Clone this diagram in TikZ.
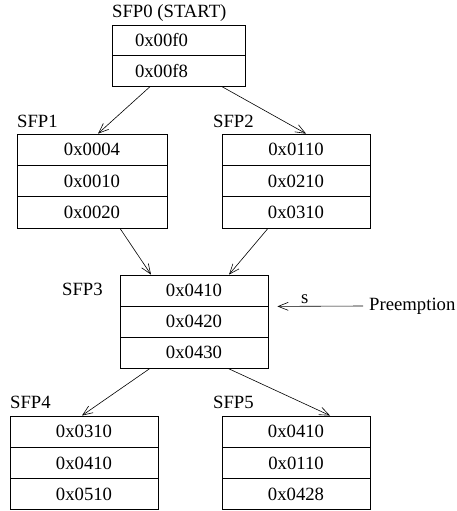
\documentclass[tikz,border=0pt]{standalone}
\usepackage{fontspec}
\setmainfont{Liberation Serif}
\usetikzlibrary{arrows.meta}
\begin{document}
\begin{tikzpicture}[x=1pt,y=-1pt,
  every node/.style={font=\fontsize{18.7}{22}\selectfont},
  cell/.style={draw, line width=0.8pt, minimum height=31.3pt, inner sep=0pt},
  w133/.style={minimum width=133pt, text width=87pt, align=left},
  w148/.style={minimum width=148pt},
  w150/.style={minimum width=150pt},
  tag/.style={anchor=base west, inner sep=0pt},
  link/.style={line width=0.6pt, -{Straight Barb[length=10pt,width=8pt]}}]
\useasboundingbox (0,0) rectangle (456,511);

% SFP0
\node[tag] (l0) at (112,18) {SFP0 (START)};
\node[cell,w133,minimum height=30.5pt] (s0a) at (178.5,40.5) {0x00f0};
\node[cell,w133,minimum height=30.5pt] (s0b) at (178.5,71) {0x00f8};

% SFP1
\node[tag] (l1) at (17,127) {SFP1};
\node[cell,w150] (s1a) at (92,149.7) {0x0004};
\node[cell,w150] (s1b) at (92,181) {0x0010};
\node[cell,w150] (s1c) at (92,212.3) {0x0020};

% SFP2
\node[tag] (l2) at (213,127) {SFP2};
\node[cell,w148] (s2a) at (296,149.7) {0x0110};
\node[cell,w148] (s2b) at (296,181) {0x0210};
\node[cell,w148] (s2c) at (296,212.3) {0x0310};

% SFP3
\node[tag] (l3) at (62,295) {SFP3};
\node[cell,w148,minimum height=31pt] (s3a) at (194,290.5) {0x0410};
\node[cell,w148,minimum height=31pt] (s3b) at (194,321.5) {0x0420};
\node[cell,w148,minimum height=31pt] (s3c) at (194,352.5) {0x0430};

% SFP4
\node[tag] (l4) at (10,408) {SFP4};
\node[cell,w148] (s4a) at (84,431.6) {0x0310};
\node[cell,w148] (s4b) at (84,462.9) {0x0410};
\node[cell,w148] (s4c) at (84,494.2) {0x0510};

% SFP5
\node[tag] (l5) at (213,408) {SFP5};
\node[cell,w148] (s5a) at (296,431.6) {0x0410};
\node[cell,w148] (s5b) at (296,462.9) {0x0110};
\node[cell,w148] (s5c) at (296,494.2) {0x0428};

% preemption input
\node[anchor=west, inner sep=0pt] (pre) at (369,306) {Preemption};
\coordinate (hit) at ([xshift=9pt]s3a.south east);

% connectors
\draw[link] ([xshift=-28.5pt]s0b.south) -- ([xshift=6pt]s1a.north);
\draw[link] ([xshift=43.5pt]s0b.south) -- ([xshift=10pt]s2a.north);
\draw[link] ([xshift=28pt]s1c.south) -- ([xshift=-43pt]s3a.north);
\draw[link] ([xshift=-28pt]s2c.south) -- ([xshift=35pt]s3a.north);
\draw[link] ([xshift=-44pt]s3c.south) -- ([xshift=-2pt]s4a.north);
\draw[link] ([xshift=34pt]s3c.south) -- ([xshift=34pt]s5a.north);
\draw[link] ([xshift=-6pt]pre.west) -- node[pos=0.68, above=2pt, inner sep=0pt] {s} (hit);
\end{tikzpicture}
\end{document}
